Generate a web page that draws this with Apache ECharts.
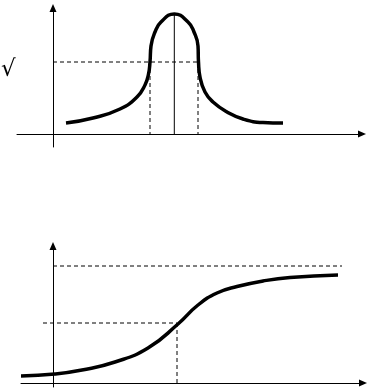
<!DOCTYPE html>
<html>
<head>
<meta charset="utf-8">
<script src="https://cdn.jsdelivr.net/npm/echarts@6/dist/echarts.min.js"></script>
<style>
html,body{margin:0;padding:0;background:#fff;}
#c{width:372px;height:389px;}
</style>
</head>
<body>
<div id="c"></div>
<script>
// ---- Top chart: resonance curve (units) ----
var topX = [13, 40, 67, 84, 92, 95.5, 97, 98, 102, 108, 121.3, 135, 141, 145, 145.5, 147, 152, 160, 174, 190, 210, 230];
var topY = [11, 16, 25, 37, 49, 60, 72, 88, 102, 112, 120, 112, 102, 88, 72, 57, 42, 32, 22, 15, 11.5, 11];
var topLevelY = 72;          // dashed level
var topBandX = [97, 145];    // dashed verticals
var topPeakX = 121.3;        // solid vertical
var topPeakY = 120;
var topLevelEndX = 146;

// ---- Bottom chart: rising curve ----
var botX = [-32, 2, 29, 62, 95, 125, 145, 164, 184, 210, 237, 285];
var botY = [7, 9, 13, 21, 35, 59, 78, 90, 96.5, 102, 105.5, 108];
var botUpperY = 117, botUpperEndX = 289;
var botMidY = 60, botMidStartX = -10, botMidX = 124;

var black = '#000';
function axisX(grid, min, max){
  return {type:'value', gridIndex:grid, min:min, max:max,
    axisLine:{show:true, onZero:true, symbol:['none','triangle'], symbolSize:[7,8], lineStyle:{color:black, width:1}},
    axisTick:{show:false}, axisLabel:{show:false}, splitLine:{show:false}};
}
function pairs(xs, ys){ return xs.map(function(x,i){return [x, ys[i]];}); }
function seg(grid, pts, dashed, width){
  return {type:'line', xAxisIndex:grid, yAxisIndex:grid, data:pts, showSymbol:false, symbol:'none',
    silent:true, lineStyle:{color:black, width:width||1, type: dashed ? [4,3] : 'solid'}, z: 2};
}

var chart = echarts.init(document.getElementById('c'), null, {renderer:'canvas'});
chart.setOption({
  animation:false,
  backgroundColor:'#fff',
  grid:[
    {left:17, top:8, width:345, height:139},
    {left:21, top:246, width:342, height:141}
  ],
  xAxis:[axisX(0,-36,309), axisX(1,-32,310)],
  yAxis:[axisX(0,-13,126), axisX(1,-4,137)],
  graphic:[{type:'text', left:1, top:59, style:{text:'\u221A', fontSize:23, fontStyle:'italic', fontFamily:'DejaVu Sans', fill:black}}],
  series:[
    seg(0, [[0,topLevelY],[topLevelEndX,topLevelY]], true),
    seg(0, [[topBandX[0],topLevelY],[topBandX[0],0]], true),
    seg(0, [[topBandX[1],topLevelY],[topBandX[1],0]], true),
    seg(0, [[topPeakX,topPeakY],[topPeakX,0]], false),
    {type:'line', xAxisIndex:0, yAxisIndex:0, data:pairs(topX, topY), showSymbol:false, symbol:'none',
      smooth:0.5, lineStyle:{color:black, width:3.5}, z:3},
    seg(1, [[0,botUpperY],[botUpperEndX,botUpperY]], true),
    seg(1, [[botMidStartX,botMidY],[botMidX,botMidY]], true),
    seg(1, [[botMidX,botMidY],[botMidX,0]], true),
    {type:'line', xAxisIndex:1, yAxisIndex:1, data:pairs(botX, botY), showSymbol:false, symbol:'none',
      smooth:0.5, lineStyle:{color:black, width:3.5}, z:3}
  ]
});
</script>
</body>
</html>
